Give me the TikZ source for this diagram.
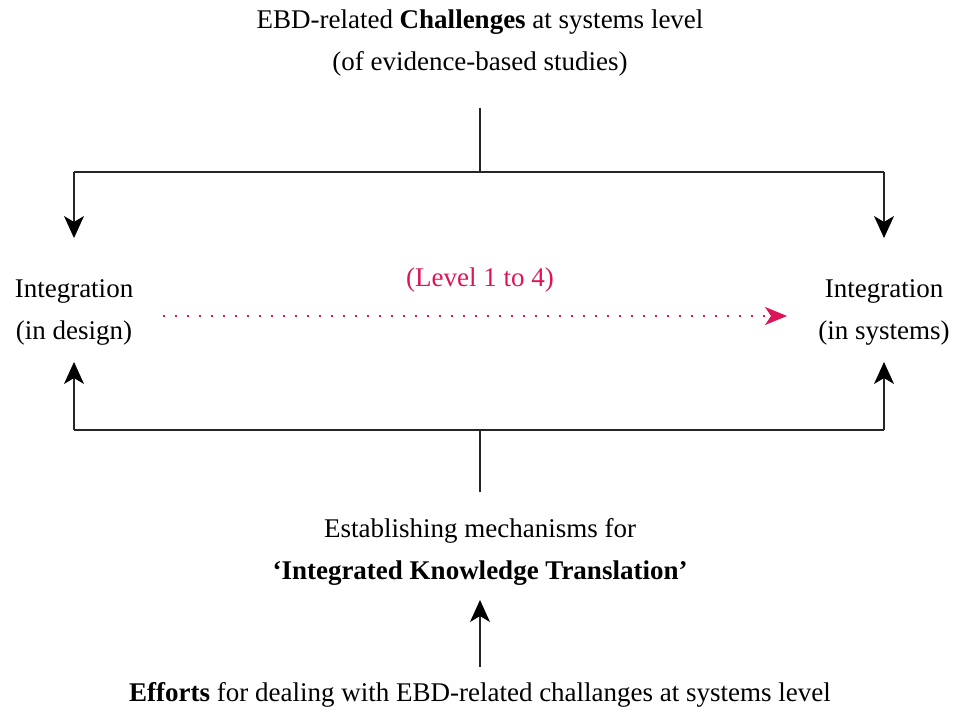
\documentclass[tikz,border=0pt]{standalone}
\usepackage{fontspec}
\setmainfont{Liberation Serif}
\usetikzlibrary{arrows.meta}
\definecolor{levelred}{RGB}{220,20,90}
\begin{document}
\begin{tikzpicture}[x=0.5pt,y=-0.5pt,
  txt/.style={font=\fontsize{13.5}{21}\selectfont, align=center, inner sep=0pt},
  conn/.style={draw=black!85, line width=0.9pt},
  tip/.style={-{Stealth[length=11pt,width=10pt,inset=3pt,color=black,fill=black,line width=0.4pt]}},
  ]
  \useasboundingbox (0,0) rectangle (956,711);

  % headings and side labels
  \node[txt] (top) at (480,43) {EBD-related \textbf{Challenges} at systems level\\(of evidence-based studies)};
  \node[txt] (left) at (74,312) {Integration\\(in design)};
  \node[txt] (right) at (884,312) {Integration\\(in systems)};
  \node[txt, text=levelred] (level) at (480,280) {(Level 1 to 4)};
  \node[txt] (mech) at (480,552) {Establishing mechanisms for\\\textbf{‘Integrated Knowledge Translation’}};
  \node[txt] (eff) at (480,695) {\textbf{Efforts} for dealing with EBD-related challanges at systems level};

  % helper points for the branching connectors
  \coordinate (tA) at (480,108);
  \coordinate (tB) at (480,172);
  \coordinate (tL) at (74,172);
  \coordinate (tR) at (884,172);
  \coordinate (bA) at (480,492);
  \coordinate (bB) at (480,430);
  \coordinate (bL) at (74,430);
  \coordinate (bR) at (884,430);
  \coordinate (dS) at (163,316);
  \coordinate (dE) at (787,316);
  \coordinate (eS) at (480,667);
  \coordinate (eE) at (480,600);

  % top branch
  \draw[conn] (tA) -- (tB);
  \draw[conn] (tL) -- (tR);
  \draw[conn, tip] (tL) -- (74,238);
  \draw[conn, tip] (tR) -- (884,238);

  % bottom branch
  \draw[conn] (bA) -- (bB);
  \draw[conn] (bL) -- (bR);
  \draw[conn, tip] (bL) -- (74,362);
  \draw[conn, tip] (bR) -- (884,362);

  % dotted progression arrow
  \draw[levelred, line width=1pt, dash pattern=on 0.8pt off 5.2pt, -{Stealth[length=11pt,width=9pt,inset=3pt,line width=0.4pt]}] (dS) -- (dE);

  % efforts to mechanisms
  \draw[conn, tip] (eS) -- (eE);
\end{tikzpicture}
\end{document}
